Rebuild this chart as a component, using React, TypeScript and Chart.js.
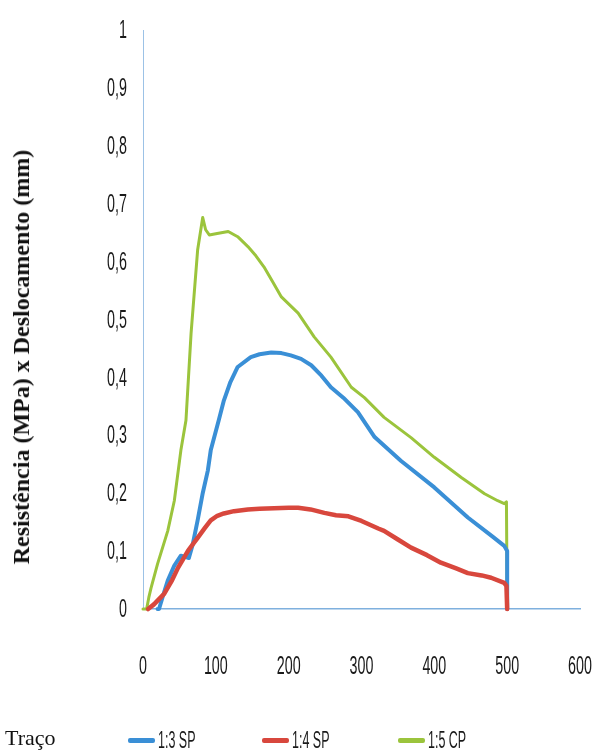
import React, { useEffect, useRef } from "react";
import { Chart, registerables } from "chart.js";

Chart.register(...registerables);

// ---- Data ----
const seriesNames = ["1:3 SP", "1:4 SP", "1:5 CP"];
const seriesColors = ["#3a8fd6", "#d8473d", "#9bc43c"];

const sp13X = [20, 22, 28, 34, 43, 52, 58, 63, 68, 75, 82, 89, 93, 104, 111, 120, 130, 148, 160, 176, 190, 203, 217, 231, 245, 258, 275, 295, 318, 354, 400, 446, 480, 496, 500, 500];
const sp13Y = [0, 0, 0.025, 0.049, 0.075, 0.092, 0.09, 0.088, 0.11, 0.153, 0.2, 0.239, 0.274, 0.326, 0.36, 0.392, 0.418, 0.435, 0.44, 0.443, 0.442, 0.438, 0.432, 0.421, 0.403, 0.383, 0.365, 0.34, 0.297, 0.256, 0.21, 0.158, 0.125, 0.109, 0.1, 0];

const sp14X = [7, 15, 29, 40, 48, 62, 75, 85, 93, 102, 111, 125, 144, 160, 180, 200, 213, 230, 249, 265, 282, 300, 323, 331, 350, 368, 390, 409, 430, 446, 465, 478, 496, 499, 500];
const sp14Y = [0, 0.008, 0.026, 0.05, 0.071, 0.101, 0.123, 0.14, 0.153, 0.161, 0.165, 0.169, 0.172, 0.173, 0.174, 0.175, 0.175, 0.172, 0.166, 0.162, 0.16, 0.152, 0.139, 0.135, 0.12, 0.106, 0.093, 0.08, 0.07, 0.062, 0.058, 0.054, 0.045, 0.04, 0];

const cp15X = [0, 5, 8, 11, 20, 34, 43, 52, 59, 66, 75, 82, 86, 91, 100, 117, 130, 144, 155, 166, 178, 190, 213, 235, 258, 286, 304, 331, 368, 400, 437, 469, 487, 496, 499, 500];
const cp15Y = [0, 0, 0.02, 0.036, 0.078, 0.135, 0.187, 0.274, 0.326, 0.476, 0.62, 0.676, 0.655, 0.646, 0.648, 0.652, 0.643, 0.626, 0.61, 0.591, 0.565, 0.539, 0.511, 0.47, 0.435, 0.383, 0.365, 0.331, 0.296, 0.262, 0.227, 0.199, 0.187, 0.182, 0.185, 0];

const xMin = 0;
const xMax = 600;
const xStep = 100;
const yMin = 0;
const yMax = 1;
const yStep = 0.1;

const yTitle = "Resistência (MPa) x Deslocamento (mm)";
const legendTitle = "Traço";

const tickFont = "'Liberation Sans', Arial, sans-serif";
const serifFont = "'Liberation Serif', 'Times New Roman', 'DejaVu Serif', serif";
const TICK_SIZE = 26;
const TICK_SQUEEZE = 0.55;

const toPoints = (xs: number[], ys: number[]) => xs.map((x, i) => ({ x, y: ys[i] }));

// Draws the scales' own tick labels in a condensed (horizontally squeezed) face.
const narrowTicks = {
  id: "narrowTicks",
  afterDraw(chart: any) {
    const ctx = chart.ctx as CanvasRenderingContext2D;
    const xs = chart.scales.x;
    const ys = chart.scales.y;
    ctx.save();
    ctx.fillStyle = "#1a1a1a";
    ctx.font = `${TICK_SIZE}px ${tickFont}`;
    ctx.textBaseline = "middle";
    ctx.textAlign = "right";
    ys.ticks.forEach((t: any) => {
      const py = ys.getPixelForValue(t.value);
      ctx.save();
      ctx.translate(ys.right - 16, py + 1);
      ctx.scale(TICK_SQUEEZE, 1);
      ctx.fillText(String(t.label), 0, 0);
      ctx.restore();
    });
    ctx.textAlign = "center";
    xs.ticks.forEach((t: any) => {
      const px = xs.getPixelForValue(t.value);
      ctx.save();
      ctx.translate(px, xs.top + 58);
      ctx.scale(TICK_SQUEEZE, 1);
      ctx.fillText(String(t.label), 0, 0);
      ctx.restore();
    });
    ctx.restore();
  },
};

export default function App() {
  const canvasRef = useRef<HTMLCanvasElement | null>(null);

  useEffect(() => {
    if (!canvasRef.current) return;
    const widths = [4, 4.5, 3];
    const orders = [1, 0, 2];
    const data = [toPoints(sp13X, sp13Y), toPoints(sp14X, sp14Y), toPoints(cp15X, cp15Y)];
    const chart = new Chart(canvasRef.current, {
      type: "line",
      data: {
        datasets: seriesNames.map((name, i) => ({
          label: name,
          data: data[i],
          borderColor: seriesColors[i],
          backgroundColor: seriesColors[i],
          borderWidth: widths[i],
          pointRadius: 0,
          tension: 0,
          fill: false,
          clip: false as any,
          order: orders[i],
          borderJoinStyle: "round" as const,
          borderCapStyle: "round" as const,
        })),
      },
      options: {
        animation: false,
        responsive: false,
        maintainAspectRatio: false,
        layout: { padding: { left: 0, right: 12, top: 30, bottom: 0 } },
        plugins: { legend: { display: false }, tooltip: { enabled: false } },
        scales: {
          x: {
            type: "linear",
            min: xMin,
            max: xMax,
            border: { display: true, color: "#7fb0de", width: 1.5 },
            grid: { display: false, drawTicks: false },
            ticks: {
              display: false,
              stepSize: xStep,
              callback: (v: any) => String(v),
            },
            afterFit: (s: any) => {
              s.height = 147;
              s.paddingLeft = 0;
              s.paddingRight = 0;
            },
          },
          y: {
            type: "linear",
            min: yMin,
            max: yMax,
            border: { display: true, color: "#9cc2e6", width: 1 },
            grid: { display: false, drawTicks: false },
            ticks: {
              display: false,
              stepSize: yStep,
              callback: (v: any) => {
                const n = Math.round(Number(v) * 10) / 10;
                return Number.isInteger(n) ? String(n) : n.toFixed(1).replace(".", ",");
              },
            },
            afterFit: (s: any) => {
              s.width = 143;
              s.paddingTop = 0;
              s.paddingBottom = 0;
            },
          },
        },
      },
      plugins: [narrowTicks],
    });
    return () => chart.destroy();
  }, []);

  return (
    <div style={{ position: "fixed", left: 0, top: 0, width: 592, height: 756, background: "#fff", overflow: "hidden" }}>
      <canvas ref={canvasRef} width={592} height={756} style={{ position: "absolute", left: 0, top: 0, width: 592, height: 756 }} />
      <div
        style={{
          position: "absolute",
          left: 21,
          top: 357,
          transform: "translate(-50%, -50%) rotate(-90deg)",
          whiteSpace: "nowrap",
          fontFamily: serifFont,
          fontWeight: "bold",
          fontSize: 24,
          color: "#111",
          lineHeight: "26px",
        }}
      >
        {yTitle}
      </div>
      <div style={{ position: "absolute", left: 5, top: 725, fontFamily: serifFont, fontSize: 22, color: "#111", lineHeight: "26px" }}>
        {legendTitle}
      </div>
      {seriesNames.map((name, i) => (
        <div
          key={name}
          style={{
            position: "absolute",
            left: [128, 262, 398][i],
            top: 726,
            height: 28,
            display: "flex",
            alignItems: "center",
            whiteSpace: "nowrap",
          }}
        >
          <span style={{ display: "inline-block", width: 27, height: 5, borderRadius: 2, background: seriesColors[i], marginRight: 3 }} />
          <span
            style={{
              display: "inline-block",
              fontFamily: tickFont,
              fontSize: 24,
              color: "#1a1a1a",
              transform: "scaleX(0.52)",
              transformOrigin: "left center",
            }}
          >
            {name}
          </span>
        </div>
      ))}
    </div>
  );
}
